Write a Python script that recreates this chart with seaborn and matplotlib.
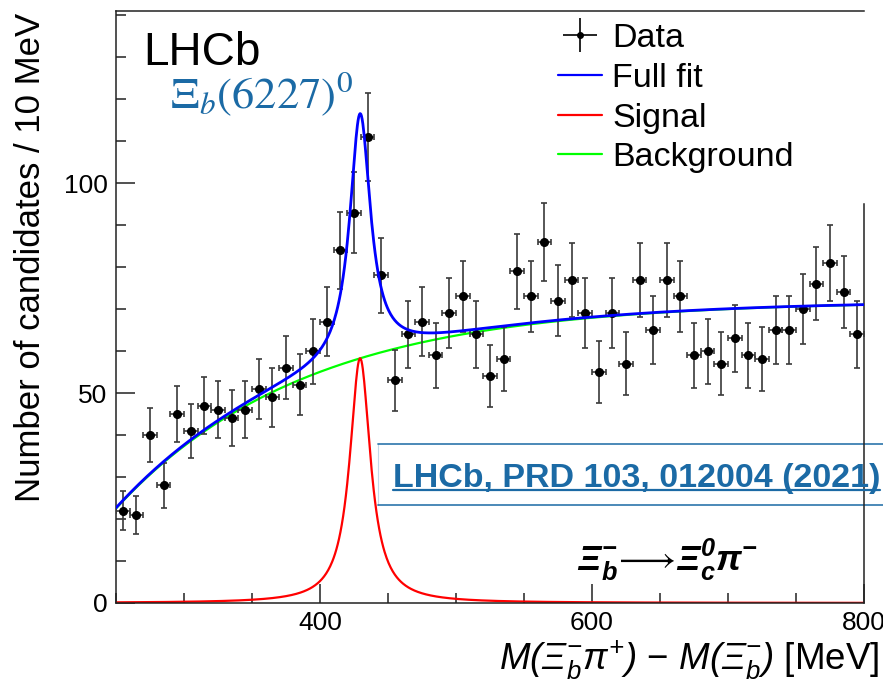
import numpy as np
import pandas as pd
import seaborn as sns
import matplotlib
matplotlib.use('Agg')
from matplotlib import pyplot as plt
from matplotlib.lines import Line2D
from matplotlib.ticker import MultipleLocator

# bin centres (10 MeV bins) and candidate counts
bin_centres = np.arange(255, 800, 10)
counts = [22, 21, 40, 28, 45, 41, 47, 46, 44, 46,
          51, 49, 56, 52, 60, 67, 84, 93, 111, 78,
          53, 64, 67, 59, 69, 73, 64, 54, 58, 79,
          73, 86, 72, 77, 69, 55, 69, 57, 77, 65,
          77, 73, 59, 60, 57, 63, 59, 58, 65, 65,
          70, 76, 81, 74, 64]
half_bin = 5

# fit model parameters
sig_mass = 429.5     # MeV
sig_width = 18.5     # MeV
sig_height = 58.3
bkg_plateau = 72.0
bkg_start = 197.5
bkg_scale = 140.0

blue_txt = '#1b6aa5'

sns.set_theme(style='ticks')
plt.rcParams['font.family'] = ['Liberation Sans', 'DejaVu Sans']
plt.rcParams['text.color'] = 'black'
plt.rcParams['axes.labelcolor'] = 'black'
plt.rcParams['xtick.labelcolor'] = 'black'
plt.rcParams['ytick.labelcolor'] = 'black'
plt.rcParams['mathtext.fontset'] = 'custom'
plt.rcParams['mathtext.rm'] = 'Liberation Sans:italic'
plt.rcParams['mathtext.it'] = 'Liberation Sans:italic'
plt.rcParams['mathtext.bf'] = 'Liberation Sans:bold:italic'
plt.rcParams['mathtext.fallback'] = 'stixsans'

x = np.linspace(250, 800, 1101)
signal = sig_height / (1 + ((x - sig_mass) / (sig_width / 2)) ** 2)
background = bkg_plateau * (1 - np.exp(-(x - bkg_start) / bkg_scale))
curves = pd.DataFrame({'x': x, 'Full fit': signal + background,
                       'Signal': signal, 'Background': background})

fig = plt.figure(figsize=(8.83, 6.86), dpi=100)
ax = fig.add_axes([0.1314, 0.121, 0.847, 0.863])

sns.lineplot(data=curves, x='x', y='Background', color='#00ff00', lw=1.6, ax=ax)
sns.lineplot(data=curves, x='x', y='Signal', color='#ff0000', lw=1.6, ax=ax)
ax.errorbar(bin_centres, counts, yerr=np.sqrt(counts), xerr=half_bin,
            fmt='o', color='black', ms=5.5, ecolor='#3a3a3a', elinewidth=1.2,
            capsize=2.5, capthick=1.2, zorder=3)
sns.lineplot(data=curves, x='x', y='Full fit', color='#0000ff', lw=2.0, ax=ax, zorder=4)

ax.set_xlim(250, 800)
ax.set_ylim(0, 141)
ax.xaxis.set_major_locator(MultipleLocator(200))
ax.xaxis.set_minor_locator(MultipleLocator(50))
ax.yaxis.set_major_locator(MultipleLocator(50))
ax.yaxis.set_minor_locator(MultipleLocator(10))
ax.tick_params(which='both', direction='in', color='#222222', width=1.1,
               labelsize=19, pad=6)
ax.tick_params(which='major', length=14)
ax.tick_params(which='minor', length=7)
for side in ['left', 'bottom', 'top', 'right']:
    ax.spines[side].set_linewidth(1.1)
    ax.spines[side].set_color('#222222')
ax.spines['right'].set_bounds(0, 95)

ax.set_ylabel('Number of candidates / 10 MeV', fontsize=25, loc='top')
ax.yaxis.set_label_coords(-0.115, 0.997)
ax.yaxis.label.set_va('center')
ax.set_xlabel(r'$M(\Xi^{-}_{b}\pi^{+})$ − $M(\Xi^{-}_{b})$ [MeV]', fontsize=26.5, loc='right')
ax.xaxis.set_label_coords(1.021, -0.097)
ax.xaxis.label.set_va('center')

ax.text(0.036, 0.909, 'LHCb', transform=ax.transAxes, fontsize=33, va='baseline')
ax.text(0.072, 0.836, r'$\Xi_{b}(6227)^{0}$', transform=ax.transAxes, fontsize=32,
        va='baseline', color=blue_txt, math_fontfamily='stix')
ax.text(0.616, 0.054,
        r'$\mathbf{\Xi^{-}_{b}}\!\longrightarrow\!\mathbf{\Xi^{0}_{c}\pi^{-}}$',
        transform=ax.transAxes, fontsize=26, va='baseline')

# reference box
box_x0, box_x1 = 0.350, 1.03
box_top, box_bot = 0.2686, 0.1655
for yy in (box_top, box_bot):
    ax.add_line(Line2D([box_x0, box_x1], [yy, yy], transform=ax.transAxes,
                       color=blue_txt, lw=1.3, alpha=0.85, clip_on=False))
ax.add_line(Line2D([box_x0, box_x0], [box_bot, box_top], transform=ax.transAxes,
                   color=blue_txt, lw=0.8, alpha=0.25, clip_on=False))
ref = ax.text(0.370, 0.196, 'LHCb, PRD 103, 012004 (2021)', transform=ax.transAxes,
              fontsize=24.5, fontweight='bold', color=blue_txt, va='baseline', clip_on=False)

data_h = ax.errorbar([], [], yerr=[], xerr=[], fmt='o', color='black', ms=4,
                     ecolor='black', elinewidth=1.2)
handles = [data_h,
           Line2D([], [], color='#0000ff', lw=1.6),
           Line2D([], [], color='#ff0000', lw=1.6),
           Line2D([], [], color='#00ff00', lw=1.6)]
ax.legend(handles, ['Data', 'Full fit', 'Signal', 'Background'], loc='upper left',
          bbox_to_anchor=(0.591, 0.98), frameon=False, fontsize=24.5,
          borderpad=0, borderaxespad=0, handlelength=1.3, handletextpad=0.3,
          labelspacing=0.26)

# underline for the reference link
fig.canvas.draw()
bb = ref.get_window_extent().transformed(fig.transFigure.inverted())
uy = (686 - 490) / 686
fig.add_artist(Line2D([bb.x0, bb.x1], [uy, uy], color=blue_txt, lw=1.6))

fig.savefig('out.png', dpi=100)
